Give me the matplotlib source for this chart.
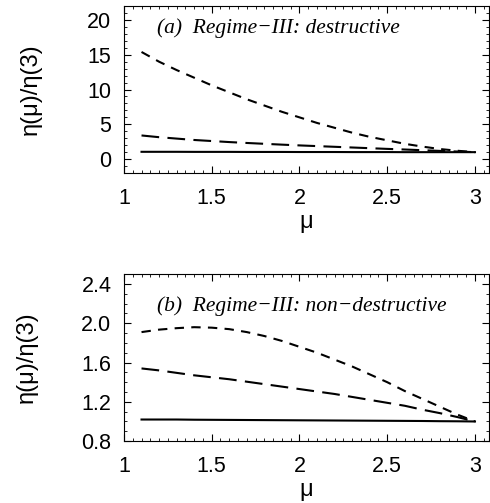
import matplotlib
matplotlib.use("Agg")
from matplotlib import pyplot as plt
from matplotlib.ticker import MultipleLocator
import numpy as np

plt.rcParams['font.family'] = ['Liberation Sans', 'DejaVu Sans']
plt.rcParams['font.size'] = 12

# mu values
mu = [1.1, 1.2, 1.3, 1.4, 1.5, 1.6, 1.7, 1.8, 1.9, 2.0, 2.1, 2.2, 2.3, 2.4, 2.5, 2.6, 2.7, 2.8, 2.9, 3.0]

# (a) destructive
a_short = [15.4, 14.0, 12.8, 11.7, 10.6, 9.6, 8.6, 7.7, 6.8, 6.0, 5.2, 4.5, 3.8, 3.2, 2.7, 2.2, 1.8, 1.45, 1.2, 1.0]
a_long = [3.4, 3.15, 2.95, 2.75, 2.6, 2.45, 2.32, 2.2, 2.08, 1.97, 1.87, 1.77, 1.67, 1.57, 1.47, 1.38, 1.28, 1.18, 1.09, 1.0]
a_solid = [1.05, 1.05, 1.05, 1.04, 1.04, 1.04, 1.03, 1.03, 1.03, 1.02, 1.02, 1.02, 1.01, 1.01, 1.01, 1.0, 1.0, 1.0, 1.0, 1.0]

# (b) non-destructive
b_short = [1.91, 1.935, 1.95, 1.96, 1.955, 1.94, 1.91, 1.87, 1.82, 1.76, 1.70, 1.63, 1.56, 1.48, 1.40, 1.31, 1.23, 1.15, 1.07, 1.0]
b_long = [1.54, 1.52, 1.495, 1.47, 1.45, 1.43, 1.405, 1.38, 1.355, 1.33, 1.305, 1.28, 1.25, 1.22, 1.19, 1.16, 1.12, 1.085, 1.045, 1.0]
b_solid = [1.02, 1.02, 1.02, 1.018, 1.017, 1.016, 1.015, 1.014, 1.013, 1.012, 1.011, 1.01, 1.009, 1.008, 1.007, 1.006, 1.005, 1.003, 1.002, 1.0]

fig = plt.figure(figsize=(4.9, 5.03), dpi=100)
ax1 = fig.add_axes([0.253, 0.656, 0.745, 0.332])
ax2 = fig.add_axes([0.253, 0.123, 0.745, 0.332])

panels = [
    (ax1, a_short, a_long, a_solid, (-2, 22), [0, 5, 10, 15, 20], 1,
     "(a)  Regime\u2212III: destructive", None, 0.87, -0.225, -0.23),
    (ax2, b_short, b_long, b_solid, (0.8, 2.5), [0.8, 1.2, 1.6, 2.0, 2.4], 0.1,
     "(b)  Regime\u2212III: non\u2212destructive", "%.1f", 0.81, -0.235, -0.225),
]

for ax, s, l, so, ylim, yt, ymin, label, fmt, ty, ylx, xly in panels:
    ax.plot(mu, s, color='black', lw=1.5, dashes=(4.5, 3.5))
    ax.plot(mu, l, color='black', lw=1.5, dashes=(8.5, 4))
    ax.plot(mu, so, color='black', lw=1.5)
    ax.set_xlim(1, 3.08)
    ax.set_ylim(*ylim)
    ax.set_xticks([1, 1.5, 2, 2.5, 3])
    ax.set_xticklabels(["1", "1.5", "2", "2.5", "3"])
    ax.set_yticks(yt)
    if fmt:
        ax.set_yticklabels([fmt % v for v in yt])
    ax.xaxis.set_minor_locator(MultipleLocator(0.05))
    ax.yaxis.set_minor_locator(MultipleLocator(ymin))
    ax.tick_params(which='both', direction='in', top=True, right=True, labelsize=15.5)
    ax.tick_params(axis='x', pad=11)
    ax.tick_params(axis='y', pad=9)
    ax.tick_params(which='major', length=5, width=0.8)
    ax.tick_params(which='minor', length=2.5, width=0.6)
    ax.set_xlabel("\u03bc", fontsize=17)
    ax.set_ylabel("\u03b7(\u03bc)/\u03b7(3)", fontsize=17)
    ax.xaxis.set_label_coords(0.5, xly)
    ax.yaxis.set_label_coords(ylx, 0.5)
    ax.text(0.09, ty, label, transform=ax.transAxes, fontsize=15.5,
            family='Liberation Serif', style='italic', va='center')

fig.savefig("out.png", dpi=100)
